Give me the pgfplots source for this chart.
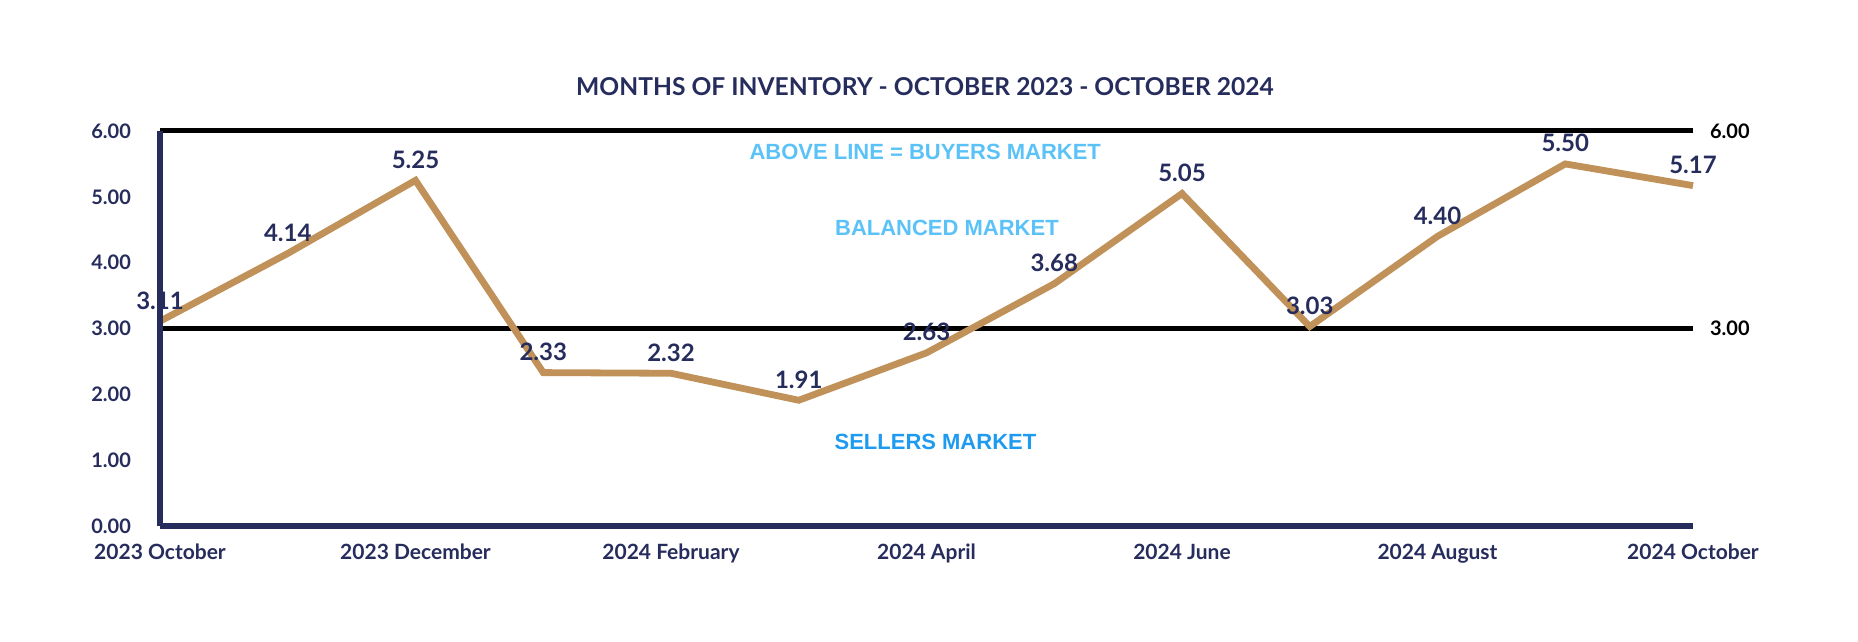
\documentclass[border=0pt]{standalone}
\usepackage{fontspec}
\setmainfont{Lato}
\newfontfamily\arialb{Liberation Sans}
\usepackage{pgfplots}
\pgfplotsset{compat=1.18}
\definecolor{navy}{HTML}{262C5C}
\definecolor{tan}{HTML}{C09158}
\definecolor{lblue}{HTML}{5BC2F7}
\definecolor{dblue}{HTML}{1E9BF0}
\begin{document}
\begin{tikzpicture}
\useasboundingbox (0,0) rectangle (929pt,321pt);
\begin{axis}[
  at={(80pt,58pt)}, anchor=south west,
  scale only axis, width=766.5pt, height=197.5pt,
  xmin=0, xmax=12, ymin=0, ymax=6,
  clip=false, axis on top,
  axis x line*=bottom, axis y line*=left,
  axis line style={navy, line width=2.8pt, -},
  major tick length=0pt,
  xtick={0,2,4,6,8,10,12},
  xticklabels={2023 October,2023 December,2024 February,2024 April,2024 June,2024 August,2024 October},
  ytick={0,1,2,3,4,5,6},
  yticklabel={\pgfmathprintnumber[fixed,fixed zerofill,precision=2]{\tick}},
  /pgf/number format/assume math mode=true,
  tick label style={text=navy},
  xticklabel style={font=\fontsize{10.5}{12}\selectfont\bfseries, yshift=-5.5pt},
  yticklabel style={font=\fontsize{10}{12}\selectfont\bfseries, xshift=-11pt},
]
% data labels first (beneath the lines)
\addplot[draw=none,
  nodes near coords={\pgfmathprintnumber[fixed,fixed zerofill,precision=2,assume math mode=true]{\pgfplotspointmeta}},
  every node near coord/.style={font=\fontsize{12}{14}\selectfont\bfseries, text=navy, anchor=south, yshift=2.4pt}]
  coordinates {(0,3.11) (1,4.14) (2,5.25) (3,2.33) (4,2.32) (5,1.91) (6,2.63) (7,3.68) (8,5.05) (9,3.03) (10,4.40) (11,5.50) (12,5.17)};
\addplot[black, line width=2.5pt] coordinates {(0,6) (12,6)};
\addplot[black, line width=2.5pt] coordinates {(0,3) (12,3)};
\addplot[tan, line width=3.4pt, line join=miter]
  coordinates {(0,3.11) (1,4.14) (2,5.25) (3,2.33) (4,2.32) (5,1.91) (6,2.63) (7,3.68) (8,5.05) (9,3.03) (10,4.40) (11,5.50) (12,5.17)};
\node[right, xshift=5pt, font=\fontsize{10}{12}\selectfont\bfseries, text=black] at (axis cs:12,6) {6.00};
\node[right, xshift=5pt, font=\fontsize{10}{12}\selectfont\bfseries, text=black] at (axis cs:12,3) {3.00};
\node[font=\arialb\fontsize{11}{13}\selectfont\bfseries, text=lblue] at (axis cs:5.99,5.68) {ABOVE LINE = BUYERS MARKET};
\node[font=\arialb\fontsize{11}{13}\selectfont\bfseries, text=lblue] at (axis cs:6.16,4.53) {BALANCED MARKET};
\node[font=\arialb\fontsize{11}{13}\selectfont\bfseries, text=dblue] at (axis cs:6.07,1.28) {SELLERS MARKET};
\end{axis}
\node[font=\fontsize{12.3}{14}\selectfont\bfseries, text=navy] at (462.5pt,277.75pt) {MONTHS OF INVENTORY - OCTOBER 2023 - OCTOBER 2024};
\end{tikzpicture}
\end{document}
